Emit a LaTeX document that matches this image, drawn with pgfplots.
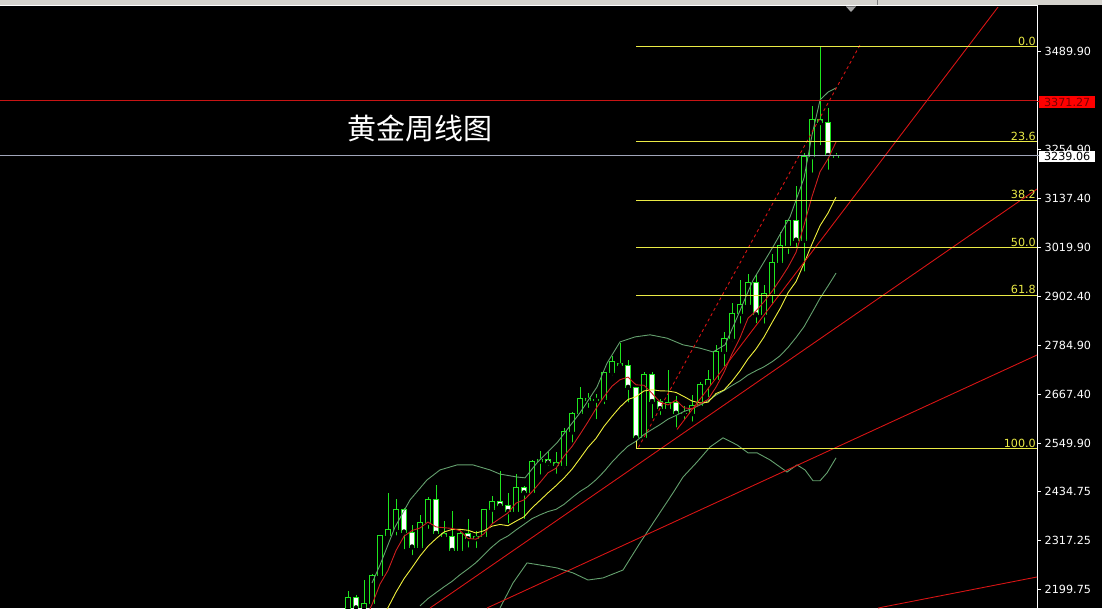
\documentclass[border=0pt]{standalone}
\usepackage{pgfplots}
\pgfplotsset{compat=1.18}
\usepackage{pgfplotstable}
\usepackage{fontspec}
\setmainfont{DejaVu Sans}
\newfontfamily\cjk{Noto Sans CJK SC}

\definecolor{cg}{RGB}{30,230,30}
\definecolor{bbg}{RGB}{100,160,110}
\definecolor{mared}{RGB}{205,30,30}
\definecolor{tred}{RGB}{215,20,20}
\definecolor{hred}{RGB}{200,20,20}
\definecolor{fibyel}{RGB}{235,235,70}
\definecolor{mayel}{RGB}{240,240,60}
\definecolor{hgray}{RGB}{160,165,185}
\definecolor{strip}{RGB}{212,210,205}

% weekly candles, x = week index; b = body bottom, t = body top
\pgfplotstableread{
x b t h l
0 2083 2179 2195 2079
2 2155 2165 2222 2146
3 2165 2233 2236 2163
4 2233 2329 2331 2229
5 2329 2344 2431 2325
6 2344 2392 2417 2324
9 2301 2360 2378 2298
10 2360 2415 2422 2340
14 2293 2333 2336 2287
16 2321 2326 2339 2294
17 2326 2392 2393 2318
18 2392 2411 2424 2353
21 2386 2443 2477 2381
23 2431 2507 2509 2425
24 2507 2512 2531 2470
27 2497 2577 2586 2485
28 2577 2622 2626 2547
29 2622 2658 2685 2615
31 2653 2656 2667 2603
32 2656 2720 2722 2639
33 2720 2747 2758 2708
37 2563 2715 2721 2563
40 2633 2648 2726 2632
43 2621 2640 2665 2597
44 2640 2690 2697 2636
45 2690 2702 2726 2656
46 2702 2770 2786 2696
47 2770 2800 2817 2730
48 2800 2861 2886 2789
49 2861 2882 2942 2832
50 2882 2936 2955 2881
52 2858 2910 2930 2832
53 2910 2984 3004 2880
54 2984 3023 3057 2982
55 3023 3085 3086 2999
57 3037 3237 3245 2957
58 3237 3327 3358 3194
61 3236 3239.06 3245 3234
}\bull

\pgfplotstableread{
x b t h l
1 2155 2179 2186 2146
7 2337 2392 2395 2291
8 2301 2337 2353 2277
11 2334 2415 2450 2325
12 2327 2334 2364 2322
13 2293 2327 2388 2287
15 2321 2333 2368 2295
19 2400 2411 2483 2393
20 2386 2400 2431 2353
22 2431 2443 2448 2364
25 2503 2512 2528 2491
26 2497 2503 2529 2472
30 2653 2658 2670 2630
34 2736 2741 2790 2728
35 2684 2736 2750 2643
36 2563 2684 2686 2536
38 2650 2715 2721 2605
39 2633 2650 2657 2613
41 2622 2648 2663 2583
42 2621 2622 2639 2603
51 2858 2936 2956 2833
56 3037 3085 3168 3015
59 3319 3327 3500 3260
60 3240 3319 3355 3201
}\bear

\pgfplotstableread{
x v
2 2123.4
3 2163
4 2212.2
5 2245.2
6 2292.6
7 2327
8 2340.6
9 2346.8
10 2361
11 2349.4
12 2347.4
13 2345.8
14 2340.4
15 2321.6
16 2320
17 2333
18 2356.6
19 2370
20 2383
21 2406.4
22 2414.2
23 2433.4
24 2455.8
25 2479.2
26 2490
27 2519.2
28 2542.2
29 2571.4
30 2601.4
31 2633.2
32 2661.8
33 2686.8
34 2702.4
35 2708.6
36 2690
37 2689
38 2669.6
39 2649
40 2641.8
41 2653.6
42 2634.8
43 2632.8
44 2644.2
45 2655
46 2684.6
47 2720.4
48 2764.6
49 2803
50 2849.8
51 2867.4
52 2889.4
53 2914
54 2942.2
55 2972
56 3007.8
57 3073.2
58 3141.8
59 3201
60 3232
61 3272.4
}\mafive

\pgfplotstableread{
x v
4 2125.5
5 2156
6 2192.8
7 2225.2
8 2251.8
9 2279.5
10 2303.1
11 2321
12 2337.2
13 2343.2
14 2343.6
15 2341.3
16 2334.7
17 2340.2
18 2351.2
19 2355.2
20 2352.3
21 2363.2
22 2373.6
23 2395
24 2412.9
25 2431.1
26 2448.2
27 2466.7
28 2487.8
29 2513.6
30 2540.3
31 2561.6
32 2590.5
33 2614.5
34 2636.9
35 2655
36 2661.6
37 2675.4
38 2678.2
39 2675.7
40 2675.2
41 2671.8
42 2661.9
43 2651.2
44 2646.6
45 2648.4
46 2669.1
47 2677.6
48 2698.7
49 2723.6
50 2752.4
51 2776
52 2804.9
53 2839.3
54 2872.6
55 2910.9
56 2937.6
57 2981.3
58 3027.9
59 3071.6
60 3102
61 3140.1
}\maten

\pgfplotstableread{
x v
9 2159.9
10 2177.5
11 2191.7
12 2205.6
13 2218.8
14 2234.6
15 2248.7
16 2263.8
17 2282.7
18 2301.5
19 2317.4
20 2327.7
21 2342.1
22 2355.4
23 2369.1
24 2378.3
25 2386.2
26 2391.5
27 2403.5
28 2419.5
29 2434.4
30 2446.3
31 2462.4
32 2482.1
33 2504.8
34 2524.9
35 2543.1
36 2554.9
37 2571.1
38 2583
39 2594.7
40 2607.8
41 2616.7
42 2626.2
43 2632.9
44 2641.8
45 2651.7
46 2665.4
47 2676.5
48 2688.5
49 2699.7
50 2713.8
51 2723.9
52 2733.4
53 2745.3
54 2759.6
55 2779.7
56 2803.4
57 2829.5
58 2863.3
59 2897.6
60 2927.2
61 2958
}\matwenty

\pgfplotstableread{
x v
3.0 2215
4.0 2258
5.875 2349
7.75 2414
9.875 2462
11.5 2486
13.625 2498
15.625 2498
17.75 2486
19.0 2476
21.125 2469
22.125 2467
23.625 2503
26.125 2551
29.0 2623
31.125 2685
32.375 2742
34.0 2793
35.875 2805
37.75 2810
39.875 2802
41.875 2786
44.0 2778
45.625 2769
47.125 2786
48.125 2829
50.625 2941
53.125 3021
55.25 3093
57.0 3186
58.0 3289
59.0 3373
60.0 3392
61.0 3402
}\bbup

\pgfplotstableread{
x v
19.0 2155
20.625 2215
22.375 2263
24.0 2258
26.125 2251
28.125 2239
30.0 2222
31.875 2227
34.375 2246
36.5 2311
38.625 2373
40.625 2431
41.875 2469
43.625 2505
45.25 2541
46.875 2563
48.625 2546
50.0 2527
51.125 2527
52.75 2510
54.875 2481
56.125 2498
57.125 2486
58.125 2460
59.0 2460
59.875 2479
61.0 2515
}\bblo

\begin{document}
\begin{tikzpicture}
\useasboundingbox (0,0) rectangle (1102pt,608pt);
\fill[black] (0,0) rectangle (1102pt,608pt);
\fill[strip] (0,603pt) rectangle (1102pt,608pt);
\draw[gray] (877pt,603pt) -- (877pt,608pt);

\begin{axis}[
  at={(0,0)}, anchor=south west,
  scale only axis, width=1037pt, height=602pt,
  xmin=-43.5, xmax=86.125, ymin=2154.9, ymax=3598.5,
  enlargelimits=false, clip mode=individual,
  hide x axis,
  axis y line*=right,
  axis line style={white, line width=1pt},
  tick align=outside, major tick length=4pt,
  ytick style={white, line width=0.8pt},
  ytick={2199.75,2317.25,2434.75,2549.90,2667.40,2784.90,2902.40,3019.90,3137.40,3254.90,3489.90},
  yticklabels={2199.75,2317.25,2434.75,2549.90,2667.40,2784.90,2902.40,3019.90,3137.40,3254.90,3489.90},
  yticklabel style={text=white, font=\fontsize{11.2}{12}\selectfont, anchor=west, inner sep=0pt, xshift=3.5pt},
]
% wicks
\addplot[only marks, mark=none, error bars/.cd, y dir=plus, y explicit, error mark=none, error bar style={cg, line width=1pt}]
  table[x=x, y=l, y error plus expr=\thisrow{h}-\thisrow{l}] {\bull};
\addplot[only marks, mark=none, error bars/.cd, y dir=plus, y explicit, error mark=none, error bar style={cg, line width=1pt}]
  table[x=x, y=l, y error plus expr=\thisrow{h}-\thisrow{l}] {\bear};
% bodies
\addplot[only marks, mark=none, error bars/.cd, y dir=plus, y explicit, error mark=none, error bar style={cg, line width=5.4pt}]
  table[x=x, y expr=\thisrow{b}-1.2, y error plus expr=\thisrow{t}-\thisrow{b}+2.4] {\bull};
\addplot[only marks, mark=none, error bars/.cd, y dir=plus, y explicit, error mark=none, error bar style={black, line width=3.2pt}]
  table[x=x, y expr=\thisrow{b}+1.2, y error plus expr=\thisrow{t}-\thisrow{b}-2.4] {\bull};
\addplot[only marks, mark=none, error bars/.cd, y dir=plus, y explicit, error mark=none, error bar style={cg, line width=5.4pt}]
  table[x=x, y expr=\thisrow{b}-1.2, y error plus expr=\thisrow{t}-\thisrow{b}+2.4] {\bear};
\addplot[only marks, mark=none, error bars/.cd, y dir=plus, y explicit, error mark=none, error bar style={white, line width=3.2pt}]
  table[x=x, y expr=\thisrow{b}+1.2, y error plus expr=\thisrow{t}-\thisrow{b}-2.4] {\bear};

% bollinger bands and moving averages
\addplot[bbg, line width=0.9pt] table[x=x, y=v] {\bbup};
\addplot[bbg, line width=0.9pt] table[x=x, y=v] {\bblo};
\addplot[bbg, line width=0.9pt] table[x=x, y=v] {\matwenty};
\addplot[mayel, line width=0.9pt] table[x=x, y=v] {\maten};
\addplot[mared, line width=0.9pt] table[x=x, y=v] {\mafive};

% trend lines
\addplot[tred, line width=0.9pt] coordinates {(41.125,2583) (81.25,3596)};
\addplot[tred, line width=0.9pt] coordinates {(10.25,2154.9) (86.125,3159.7)};
\addplot[tred, line width=0.9pt] coordinates {(17.375,2154.9) (86.125,2761.6)};
\addplot[tred, line width=0.9pt] coordinates {(66.25,2154.9) (86.125,2229.3)};
\addplot[tred, line width=0.9pt, dash pattern=on 3pt off 3pt] coordinates {(36.3,2540) (64,3505)};

% fibonacci levels
\addplot[fibyel, line width=0.9pt] coordinates {(36,3501) (86.125,3501)};
\addplot[fibyel, line width=0.9pt] coordinates {(36,3273.4) (86.125,3273.4)};
\addplot[fibyel, line width=0.9pt] coordinates {(36,3132.6) (86.125,3132.6)};
\addplot[fibyel, line width=0.9pt] coordinates {(36,3018.8) (86.125,3018.8)};
\addplot[fibyel, line width=0.9pt] coordinates {(36,2905.0) (86.125,2905.0)};
\addplot[fibyel, line width=0.9pt] coordinates {(36,2536.6) (86.125,2536.6)};
\addplot[fibyel, line width=0.9pt] coordinates {(36,2536.6) (36,2556)};

% price lines
\addplot[hred, line width=0.9pt] coordinates {(-43.5,3371.27) (86.125,3371.27)};
\addplot[hgray, line width=0.9pt] coordinates {(-43.5,3239.06) (86.125,3239.06)};

\begin{scope}[every node/.style={text=fibyel, font=\fontsize{11.2}{12}\selectfont, anchor=south east, inner sep=1pt}]
\node at (axis cs:86.125,3501) {0.0};
\node at (axis cs:86.125,3273.4) {23.6};
\node at (axis cs:86.125,3132.6) {38.2};
\node at (axis cs:86.125,3018.8) {50.0};
\node at (axis cs:86.125,2905.0) {61.8};
\node at (axis cs:86.125,2536.6) {100.0};
\end{scope}

\node[text=white, font=\cjk\fontsize{29}{32}\selectfont] at (axis cs:9,3306) {黄金周线图};
\end{axis}

\draw[white, line width=1pt] (0,602.5pt) -- (1037.5pt,602.5pt);
\fill[gray!70] (846pt,601.5pt) -- (856pt,601.5pt) -- (851pt,596pt) -- cycle;
\draw[hred, line width=0.9pt] (1037pt,507pt) -- (1040pt,507pt);
\draw[hgray, line width=0.9pt] (1037pt,453pt) -- (1040pt,453pt);
\node[fill=red, text={rgb,255:red,120;green,0;blue,0}, font=\fontsize{11.2}{12}\selectfont,
  inner sep=0pt, minimum width=56pt, minimum height=12.6pt, anchor=west] at (1039pt,506pt) {3371.27};
\node[fill=white, text=black, font=\fontsize{11.2}{12}\selectfont,
  inner sep=0pt, minimum width=56pt, minimum height=11.6pt, anchor=west] at (1039pt,451.5pt) {3239.06};
\end{tikzpicture}
\end{document}
